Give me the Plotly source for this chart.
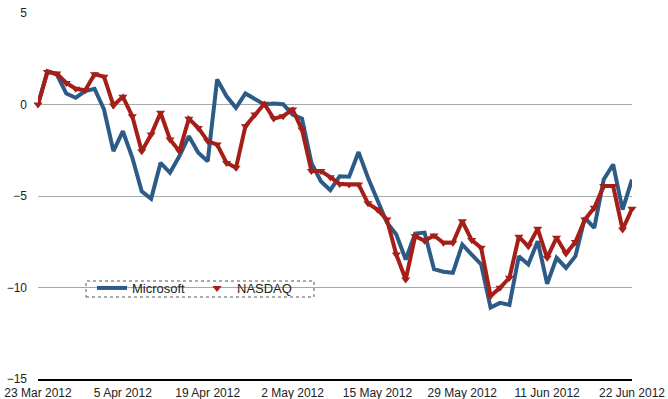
import pandas as pd
import plotly.graph_objects as go

# Trading days 23 Mar 2012 .. 22 Jun 2012 (Good Friday and Memorial Day closed)
dates = [d for d in pd.bdate_range("2012-03-23", "2012-06-22")
         if d.strftime("%Y-%m-%d") not in ("2012-04-06", "2012-05-28")]
categories = [d.strftime("%Y-%m-%d") for d in dates]

microsoft = [0.0, 1.82, 1.64, 0.6, 0.37, 0.73, 0.86, -0.27, -2.55, -1.46,
             -2.9, -4.74, -5.15, -3.19, -3.73, -2.82, -1.73, -2.64, -3.1, 1.37,
             0.45, -0.18, 0.6, 0.33, 0.0, 0.05, 0.02, -0.55, -0.78, -3.19,
             -4.19, -4.68, -3.92, -3.95, -2.6, -4.0, -5.25, -6.45, -7.1, -8.47,
             -7.05, -7.0, -9.0, -9.14, -9.2, -7.65, -8.2, -8.74, -11.1, -10.84,
             -10.95, -8.29, -8.74, -7.47, -9.8, -8.38, -8.93, -8.29, -6.19, -6.74,
             -4.1, -3.28, -5.74, -4.1]

nasdaq = [0.0, 1.77, 1.69, 1.18, 0.86, 0.78, 1.65, 1.52, -0.05, 0.42,
          -0.64, -2.55, -1.64, -0.45, -1.91, -2.55, -0.78, -1.28, -2.0, -2.19,
          -3.19, -3.46, -1.19, -0.55, 0.04, -0.77, -0.64, -0.27, -1.37, -3.64,
          -3.64, -3.97, -4.34, -4.37, -4.37, -5.4, -5.74, -6.28, -8.2, -9.56,
          -7.2, -7.45, -7.16, -7.56, -7.56, -6.38, -7.41, -7.83, -10.47, -10.02,
          -9.47, -7.23, -7.74, -6.79, -8.38, -7.28, -8.14, -7.52, -6.28, -5.64,
          -4.46, -4.46, -6.83, -5.7]

tick_idx = [0, 9, 18, 27, 36, 45, 54, 63]
tick_vals = [categories[i] for i in tick_idx]
tick_text = [dates[i].strftime("%-d %b %Y") for i in tick_idx]
y_ticks = [5, 0, -5, -10, -15]

BLUE = "#2D5B88"
RED = "#A51F18"
FONT = "Liberation Sans, Arial, sans-serif"

L, R, T, B = 38, 36, 13, 20
PW, PH = 668 - L - R, 399 - T - B

fig = go.Figure()
fig.add_trace(go.Scatter(x=categories, y=microsoft, mode="lines", name="Microsoft",
                         line=dict(color=BLUE, width=4), hoverinfo="skip"))
fig.add_trace(go.Scatter(x=categories, y=nasdaq, mode="lines", name="NASDAQ",
                         line=dict(color=RED, width=4), showlegend=False,
                         legendgroup="n", hoverinfo="skip"))
fig.add_trace(go.Scatter(x=categories, y=nasdaq, mode="markers", name="NASDAQ",
                         marker=dict(symbol="triangle-down", size=8, color=RED),
                         legendgroup="n", cliponaxis=False))

fig.update_layout(
    width=668, height=399,
    margin=dict(l=L, r=R, t=T, b=B, autoexpand=False),
    paper_bgcolor="white", plot_bgcolor="white",
    font=dict(family=FONT, size=12, color="#222222"),
    showlegend=True,
    legend=dict(orientation="h", x=(92 - L) / PW, y=(379 - 273) / PH,
                xanchor="left", yanchor="top",
                bgcolor="rgba(0,0,0,0)", borderwidth=0,
                font=dict(size=13, color="#222222"),
                itemwidth=30, entrywidth=60, entrywidthmode="pixels"),
    xaxis=dict(type="category", range=[0, 63], tickmode="array",
               tickvals=tick_vals, ticktext=tick_text, showgrid=False,
               showline=True, linecolor="#000000", linewidth=1.5,
               ticks="", zeroline=False, tickfont=dict(size=12),
               ticklabelstandoff=2, automargin=False),
    yaxis=dict(range=[-15, 5], tickmode="array", tickvals=y_ticks,
               showgrid=True, gridcolor="#A8A8A8", gridwidth=1,
               zeroline=False, ticks="", ticklabelstandoff=10,
               tickfont=dict(size=12), automargin=False),
)

# dotted legend frame
fig.add_shape(type="rect", xref="paper", yref="paper",
              x0=(86 - L) / PW, x1=(314 - L) / PW,
              y0=(379 - 297) / PH, y1=(379 - 281) / PH,
              line=dict(color="#555555", width=1, dash="dot"),
              fillcolor="white", layer="below")

fig.write_html("out.html",
               config={"displayModeBar": False},
               post_script="document.body.style.margin='0';"
                           "document.body.style.overflow='hidden';")
